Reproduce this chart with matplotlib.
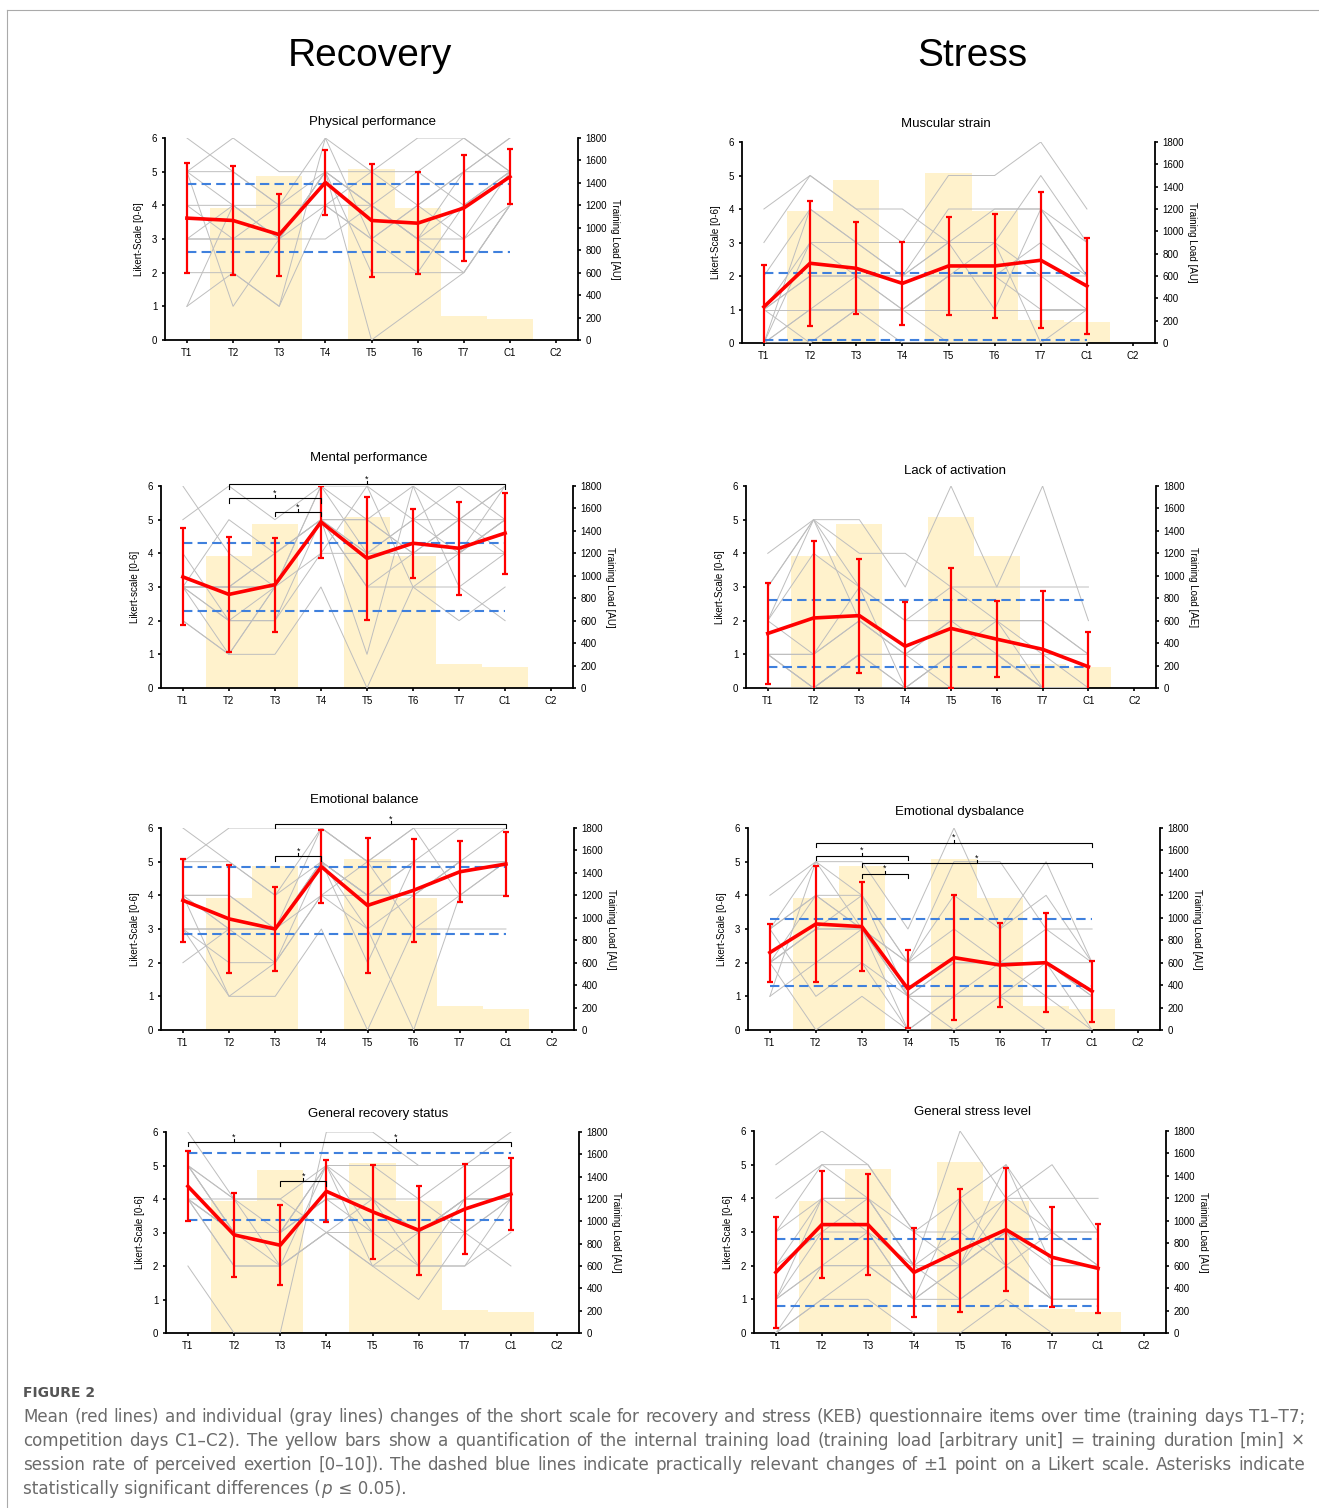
import matplotlib
matplotlib.use('Agg')
import matplotlib.pyplot as plt
import numpy as np
from matplotlib.lines import Line2D

plt.rcParams['font.family'] = ['Liberation Sans', 'DejaVu Sans']

# ---------------- data ----------------
timepoints = ['T1', 'T2', 'T3', 'T4', 'T5', 'T6', 'T7', 'C1', 'C2']
training_load = [0, 1180, 1460, 0, 1525, 1180, 210, 185, 0]

phys_mean = [3.62, 3.55, 3.13, 4.68, 3.55, 3.47, 3.92, 4.85]
phys_sd = [1.63, 1.62, 1.22, 0.96, 1.68, 1.52, 1.57, 0.82]
phys_indiv = [
    [6, 5, 4, 6, 5, 6, 6, 5], [5, 6, 5, 5, 5, 4, 5, 6], [5, 4, 3, 5, 4, 3, 4, 5],
    [4, 4, 3, 5, 4, 3, 5, 5], [3, 4, 4, 4, 3, 4, 3, 4], [3, 3, 3, 3, 4, 3, 2, 4],
    [3, 3, 3, 5, 2, 2, 4, 5], [2, 2, 1, 4, 3, 2, 2, 4], [1, 2, 1, 6, 3, 4, 5, 6],
    [5, 1, 3, 5, 0, 1, 2, 4], [5, 5, 4, 5, 4, 5, 6, 5], [4, 3, 4, 4, 5, 5, 4, 5],
    [1, 4, 3, 4, 4, 3, 3, 5]]

musc_mean = [1.08, 2.38, 2.23, 1.78, 2.30, 2.30, 2.47, 1.70]
musc_sd = [1.25, 1.86, 1.37, 1.24, 1.45, 1.56, 2.03, 1.44]
musc_indiv = [
    [4, 5, 4, 4, 3, 4, 4, 3], [3, 5, 4, 3, 5, 5, 6, 4], [2, 4, 3, 2, 3, 3, 5, 3],
    [1, 3, 3, 2, 4, 4, 4, 2], [1, 2, 2, 2, 2, 2, 3, 2], [1, 2, 2, 1, 2, 2, 2, 1],
    [1, 1, 1, 1, 1, 1, 1, 1], [0, 3, 2, 2, 3, 3, 2, 2], [0, 1, 2, 1, 2, 2, 1, 1],
    [0, 4, 3, 3, 3, 1, 4, 2], [1, 0, 1, 0, 0, 0, 0, 0], [0, 1, 1, 1, 2, 3, 0, 1],
    [0, 0, 1, 1, 0, 0, 0, 0]]

ment_mean = [3.30, 2.78, 3.07, 4.93, 3.85, 4.30, 4.15, 4.60]
ment_sd = [1.44, 1.72, 1.40, 1.07, 1.83, 1.03, 1.38, 1.20]
ment_indiv = [
    [6, 4, 3, 6, 6, 5, 6, 5], [5, 6, 5, 6, 5, 6, 5, 6], [3, 5, 4, 5, 4, 5, 4, 5],
    [3, 3, 3, 5, 5, 4, 5, 6], [3, 3, 4, 5, 4, 4, 4, 5], [3, 2, 3, 5, 3, 4, 4, 4],
    [2, 1, 3, 5, 3, 3, 3, 4], [2, 1, 1, 3, 0, 3, 2, 3], [4, 2, 2, 4, 4, 5, 5, 5],
    [3, 1, 3, 6, 4, 4, 5, 4], [3, 3, 4, 5, 1, 6, 3, 2], [3, 2, 2, 5, 5, 4, 4, 5],
    [3, 3, 3, 4, 6, 3, 4, 6]]
ment_sig = [(1, 7, 6.05), (1, 3, 5.63), (2, 3, 5.23)]

lack_mean = [1.62, 2.08, 2.15, 1.24, 1.77, 1.45, 1.15, 0.63]
lack_sd = [1.50, 2.30, 1.69, 1.31, 1.78, 1.12, 1.74, 1.03]
lack_indiv = [
    [4, 5, 5, 3, 6, 3, 6, 2], [3, 5, 4, 4, 3, 3, 3, 3], [3, 5, 3, 2, 3, 2, 2, 1],
    [2, 4, 3, 2, 2, 2, 2, 1], [2, 5, 2, 1, 2, 2, 1, 1], [1, 1, 2, 1, 2, 1, 1, 0],
    [1, 0, 1, 1, 1, 1, 0, 0], [1, 1, 3, 0, 1, 2, 0, 0], [1, 0, 0, 0, 0, 0, 0, 0],
    [2, 1, 2, 1, 1, 1, 0, 0], [1, 0, 1, 0, 1, 1, 0, 0], [0, 0, 1, 0, 1, 1, 0, 0],
    [0, 0, 1, 1, 0, 0, 0, 0]]

emob_mean = [3.85, 3.30, 3.00, 4.85, 3.70, 4.15, 4.70, 4.93]
emob_sd = [1.24, 1.60, 1.25, 1.08, 2.00, 1.53, 0.90, 0.96]
emob_indiv = [
    [5, 6, 6, 6, 5, 6, 6, 6], [6, 5, 4, 6, 5, 5, 6, 6], [5, 5, 4, 5, 4, 5, 5, 5],
    [4, 4, 3, 5, 4, 5, 5, 5], [4, 4, 3, 5, 4, 4, 5, 5], [4, 3, 3, 5, 3, 4, 5, 5],
    [4, 3, 3, 4, 4, 4, 4, 5], [3, 3, 2, 5, 2, 5, 5, 6], [3, 2, 2, 4, 5, 3, 4, 4],
    [3, 1, 1, 3, 0, 3, 3, 3], [2, 3, 3, 5, 4, 4, 5, 5], [4, 1, 2, 4, 3, 0, 4, 4],
    [3, 3, 3, 6, 5, 6, 4, 5]]
emob_sig = [(2, 7, 6.12), (2, 3, 5.16)]

emod_mean = [2.30, 3.15, 3.07, 1.22, 2.15, 1.93, 2.00, 1.15]
emod_sd = [0.86, 1.73, 1.33, 1.17, 1.85, 1.26, 1.47, 0.90]
emod_indiv = [
    [4, 5, 5, 3, 6, 3, 4, 2], [3, 5, 4, 2, 5, 5, 3, 3], [3, 4, 4, 2, 4, 3, 5, 2],
    [3, 4, 3, 2, 3, 2, 3, 2], [2, 3, 3, 1, 2, 2, 2, 1], [2, 3, 3, 1, 2, 2, 2, 1],
    [2, 4, 3, 2, 2, 2, 2, 2], [2, 2, 3, 1, 1, 2, 1, 1], [2, 3, 4, 1, 1, 1, 1, 1],
    [3, 1, 2, 1, 0, 1, 1, 0], [1, 2, 2, 0, 1, 1, 2, 0], [1, 5, 3, 0, 0, 0, 0, 0],
    [2, 0, 1, 0, 1, 1, 0, 0]]
emod_sig = [(1, 7, 5.56), (1, 3, 5.18), (2, 7, 4.96), (2, 3, 4.64)]

genr_mean = [4.38, 2.93, 2.62, 4.23, 3.62, 3.07, 3.70, 4.15]
genr_sd = [1.05, 1.25, 1.19, 0.93, 1.40, 1.33, 1.33, 1.07]
genr_indiv = [
    [6, 4, 3, 5, 5, 4, 5, 5], [5, 4, 4, 5, 5, 5, 5, 5], [5, 3, 3, 4, 4, 3, 4, 4],
    [5, 3, 3, 4, 4, 3, 4, 4], [5, 3, 2, 3, 3, 3, 3, 4], [4, 3, 3, 4, 3, 3, 4, 5],
    [4, 2, 2, 3, 4, 2, 4, 4], [4, 2, 2, 5, 3, 2, 2, 3], [2, 0, 0, 6, 6, 5, 5, 6],
    [5, 4, 4, 3, 2, 1, 3, 2], [4, 3, 3, 5, 4, 4, 3, 4], [4, 4, 2, 3, 2, 2, 2, 4],
    [4, 3, 3, 5, 2, 3, 4, 4]]
genr_sig = [(0, 2, 5.70), (2, 7, 5.70), (2, 3, 4.53)]

gens_mean = [1.80, 3.22, 3.22, 1.80, 2.45, 3.07, 2.25, 1.92]
gens_sd = [1.66, 1.60, 1.49, 1.32, 1.82, 1.82, 1.49, 1.32]
gens_indiv = [
    [5, 6, 5, 3, 3, 2, 3, 3], [4, 5, 5, 3, 2, 5, 3, 3], [3, 5, 4, 3, 4, 5, 2, 2],
    [3, 4, 4, 2, 6, 4, 4, 4], [2, 4, 4, 2, 3, 4, 3, 2], [2, 3, 4, 2, 2, 3, 3, 2],
    [1, 2, 3, 1, 2, 3, 2, 2], [1, 4, 3, 1, 4, 2, 1, 1], [1, 3, 3, 2, 2, 4, 5, 3],
    [1, 2, 2, 1, 2, 3, 1, 1], [0, 1, 2, 1, 1, 2, 1, 1], [0, 2, 2, 2, 1, 2, 1, 1],
    [0, 1, 1, 0, 0, 1, 0, 0]]

# ---------------- layout ----------------
W, H = 1319, 1508
fig = plt.figure(figsize=(W / 100, H / 100), dpi=100)

GRAY = '#BEBEBE'
RED = '#FF0000'
BLUE = '#3F80DD'
BAR = '#FFF2CC'

panels = [
    dict(title='Physical performance', box=(165, 138, 578, 340), tx=373, ty=122,
         mean=phys_mean, sd=phys_sd, ind=phys_indiv, yl='Likert-Scale [0-6]',
         rl='Training Load [AU]', sig=[]),
    dict(title='Muscular strain', box=(742, 142, 1155, 343), tx=946, ty=124,
         mean=musc_mean, sd=musc_sd, ind=musc_indiv, yl='Likert-Scale [0-6]',
         rl='Training Load [AU]', sig=[]),
    dict(title='Mental performance', box=(161, 486, 573, 688), tx=369, ty=458,
         mean=ment_mean, sd=ment_sd, ind=ment_indiv, yl='Likert-scale [0-6]',
         rl='Training Load [AU]', sig=ment_sig),
    dict(title='Lack of activation', box=(746, 486, 1156, 688), tx=955, ty=471,
         mean=lack_mean, sd=lack_sd, ind=lack_indiv, yl='Likert-Scale [0-6]',
         rl='Training Load [AE]', sig=[]),
    dict(title='Emotional balance', box=(161, 828, 574, 1030), tx=364, ty=800,
         mean=emob_mean, sd=emob_sd, ind=emob_indiv, yl='Likert-Scale [0-6]',
         rl='Training Load [AU]', sig=emob_sig),
    dict(title='Emotional dysbalance', box=(748, 828, 1160, 1030), tx=960, ty=812,
         mean=emod_mean, sd=emod_sd, ind=emod_indiv, yl='Likert-Scale [0-6]',
         rl='Training Load [AU]', sig=emod_sig),
    dict(title='General recovery status', box=(166, 1132, 579, 1333), tx=378, ty=1114,
         mean=genr_mean, sd=genr_sd, ind=genr_indiv, yl='Likert-Scale [0-6]',
         rl='Training Load [AU]', sig=genr_sig),
    dict(title='General stress level', box=(754, 1131, 1166, 1333), tx=972, ty=1112,
         mean=gens_mean, sd=gens_sd, ind=gens_indiv, yl='Likert-Scale [0-6]',
         rl='Training Load [AU]', sig=[]),
]

x_all = np.arange(len(timepoints))


def bracket(ax, i, j, y):
    d = 0.13
    ax.plot([i, i, j, j], [y - d, y, y, y - d], color='black', lw=0.8,
            clip_on=False, zorder=7, solid_joinstyle='miter')
    m = (i + j) / 2
    ax.plot([m, m], [y, y + 0.09], color='black', lw=0.8, clip_on=False, zorder=7)
    ax.text(m, y + 0.02, '*', ha='center', va='bottom', fontsize=6.5,
            clip_on=False, zorder=7)


for p in panels:
    l, t, r, b = p['box']
    ax2 = fig.add_axes([l / W, 1 - b / H, (r - l) / W, (b - t) / H])
    ax = ax2.twinx()
    ax.yaxis.tick_left()
    ax.yaxis.set_label_position('left')
    ax2.yaxis.tick_right()
    ax2.yaxis.set_label_position('right')
    ax.set_zorder(ax2.get_zorder() + 1)
    ax.patch.set_visible(False)

    # bars (secondary axis)
    ax2.bar(x_all, training_load, width=1.0, color=BAR, edgecolor='none', zorder=1)
    ax2.set_ylim(0, 1800)
    ax2.set_yticks(np.arange(0, 1801, 200))
    ax2.set_xlim(-0.475, 8.475)
    ax2.set_xticks(x_all)
    ax2.set_xticklabels(timepoints)
    ax2.set_ylabel(p['rl'], rotation=270, fontsize=7, labelpad=9)

    # individual lines
    xi = x_all[:8]
    for row in p['ind']:
        ax.plot(xi, row, color=GRAY, lw=0.7, zorder=2)
    # +-1 reference lines around the T1 mean
    base = p['mean'][0]
    for off in (1, -1):
        ax.plot([xi[0], xi[-1]], [base + off, base + off], color=BLUE, lw=1.5,
                dashes=(4.5, 2.5), zorder=3)
    # mean with sd
    ax.errorbar(xi, p['mean'], yerr=p['sd'], color=RED, lw=2.6, elinewidth=1.6,
                capsize=2.2, capthick=1.6, zorder=5)
    for (i, j, y) in p['sig']:
        bracket(ax, i, j, y)

    ax.set_ylim(0, 6)
    ax.set_yticks(range(7))
    ax.set_xlim(-0.475, 8.475)
    ax.set_ylabel(p['yl'], fontsize=7, labelpad=6)

    for a in (ax, ax2):
        for s in a.spines.values():
            s.set_linewidth(1.3)
        a.spines['top'].set_visible(False)
    ax.spines['right'].set_visible(False)
    ax2.spines['left'].set_visible(False)
    ax.spines['bottom'].set_visible(False)
    ax.tick_params(axis='y', direction='out', length=2.5, width=1.2, labelsize=7, pad=3)
    ax2.tick_params(axis='y', direction='out', length=2.5, width=1.2, labelsize=7, pad=3)
    ax2.tick_params(axis='x', direction='out', length=2, width=1.2, labelsize=7, pad=4)
    ax.tick_params(axis='x', bottom=False, labelbottom=False)

    fig.text(p['tx'] / W, 1 - p['ty'] / H, p['title'], ha='center', va='center',
             fontsize=9.5)

# column headers
fig.text(370 / W, 1 - 56 / H, 'Recovery', ha='center', va='center', fontsize=28)
fig.text(972 / W, 1 - 56 / H, 'Stress', ha='center', va='center', fontsize=28)

# frame lines
fig.add_artist(Line2D([7 / W, 1], [1 - 10 / H, 1 - 10 / H], color='#AAAAAA', lw=0.8))
fig.add_artist(Line2D([7 / W, 7 / W], [0, 1 - 10 / H], color='#AAAAAA', lw=0.8))

# caption
cap_font = ['DejaVu Sans']
CAPC = '#6B6B6B'
fig.text(23 / W, 1 - 1393 / H, 'FIGURE 2', ha='left', va='center', fontsize=10,
         color='#555555', family=cap_font, fontweight='semibold')
cap_lines = [
    'Mean (red lines) and individual (gray lines) changes of the short scale for recovery and stress (KEB) questionnaire items over time (training days T1\u2013T7;',
    'competition days C1\u2013C2). The yellow bars show a quantification of the internal training load (training load [arbitrary unit] = training duration [min] \u00d7',
    'session rate of perceived exertion [0\u201310]). The dashed blue lines indicate practically relevant changes of \u00b11 point on a Likert scale. Asterisks indicate',
]
cap_y = [1417, 1441, 1465]
x0, x1 = 23, 1305
renderer = fig.canvas.get_renderer()

# fit font size so that the longest line spans the text width
probe = fig.text(0, 0, max(cap_lines, key=len), fontsize=12, family=cap_font)
nat = max(fig.text(0, 0, s, fontsize=12, family=cap_font).get_window_extent(renderer).width
          for s in cap_lines)
for t_ in list(fig.texts)[-4:]:
    t_.remove()
fs = 12 * (x1 - x0) / nat * 0.995

for line, yy in zip(cap_lines, cap_y):
    words = line.split(' ')
    objs = [fig.text(0, 1 - yy / H, w_, ha='left', va='center', fontsize=fs,
                     color=CAPC, family=cap_font) for w_ in words]
    widths = [o.get_window_extent(renderer).width for o in objs]
    gap = (x1 - x0 - sum(widths)) / (len(words) - 1)
    xx = x0
    for o, wd in zip(objs, widths):
        o.set_x(xx / W)
        xx += wd + gap

# last line with italic p
parts = [('statistically significant differences (', 'normal'), ('p', 'italic'),
         (' \u2264 0.05).', 'normal')]
xx = x0
for s, st in parts:
    o = fig.text(xx / W, 1 - 1489 / H, s, ha='left', va='center', fontsize=fs,
                 color=CAPC, family=cap_font, style=st)
    xx += o.get_window_extent(renderer).width + (1.5 if st == 'italic' else 0)

fig.savefig('out.png', dpi=100)
